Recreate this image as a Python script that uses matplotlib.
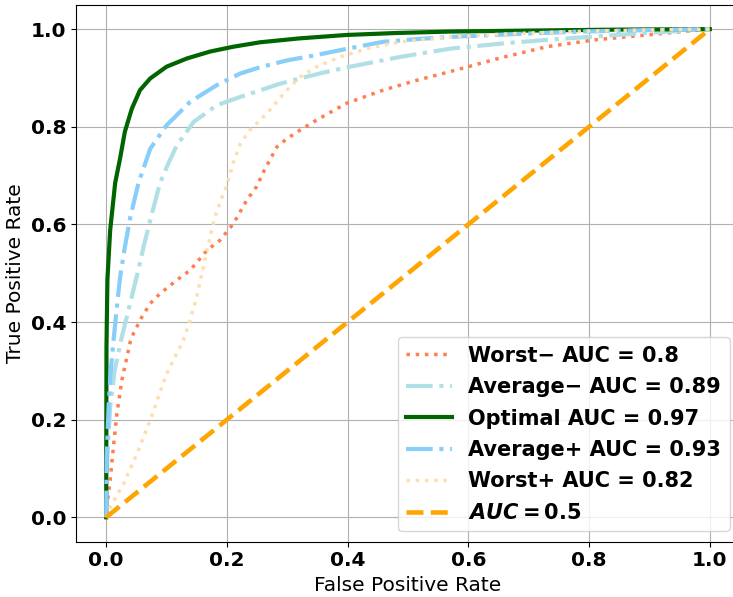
import numpy as np
import matplotlib
matplotlib.use("Agg")
import matplotlib.pyplot as plt

plt.rcParams['mathtext.fontset'] = 'custom'
plt.rcParams['mathtext.it'] = 'DejaVu Sans:italic:bold'
plt.rcParams['mathtext.rm'] = 'DejaVu Sans:bold'

# ROC curves (fpr, tpr)
worst_neg_fpr = [0, 0.001, 0.0066, 0.012, 0.0177, 0.026, 0.04, 0.045, 0.059, 0.073, 0.089, 0.117,
                 0.139, 0.167, 0.189, 0.211, 0.233, 0.249, 0.262, 0.283, 0.3, 0.321, 0.349, 0.398,
                 0.459, 0.514, 0.57, 0.65, 0.73, 0.81, 0.895, 1.0]
worst_neg_tpr = [0, 0.021, 0.076, 0.144, 0.212, 0.281, 0.36, 0.376, 0.41, 0.438, 0.458, 0.486,
                 0.506, 0.547, 0.568, 0.602, 0.65, 0.677, 0.711, 0.759, 0.776, 0.793, 0.814, 0.848,
                 0.875, 0.895, 0.913, 0.94, 0.964, 0.978, 0.988, 1.0]

avg_neg_fpr = [0, 0.002, 0.0066, 0.014, 0.025, 0.04, 0.051, 0.062, 0.073, 0.089, 0.103, 0.117,
               0.145, 0.183, 0.222, 0.249, 0.285, 0.321, 0.36, 0.404, 0.487, 0.57, 0.66, 0.752,
               0.87, 1.0]
avg_neg_tpr = [0, 0.124, 0.226, 0.3, 0.365, 0.44, 0.495, 0.554, 0.609, 0.684, 0.725, 0.762,
               0.81, 0.844, 0.861, 0.872, 0.887, 0.899, 0.911, 0.923, 0.943, 0.96, 0.971, 0.98,
               0.99, 1.0]

optimal_fpr = [0, 0.0005, 0.002, 0.0066, 0.0149, 0.023, 0.031, 0.0425, 0.056, 0.073, 0.1, 0.134,
               0.172, 0.211, 0.255, 0.32, 0.398, 0.48, 0.57, 0.7, 0.85, 1.0]
optimal_tpr = [0, 0.35, 0.486, 0.588, 0.685, 0.735, 0.79, 0.837, 0.875, 0.899, 0.923, 0.94,
               0.954, 0.964, 0.973, 0.981, 0.988, 0.992, 0.995, 0.997, 0.999, 1.0]

avg_pos_fpr = [0, 0.001, 0.004, 0.0075, 0.012, 0.0177, 0.023, 0.031, 0.04, 0.0535, 0.073, 0.1,
               0.139, 0.183, 0.222, 0.255, 0.3, 0.349, 0.4, 0.459, 0.52, 0.57, 0.68, 0.785, 0.9, 1.0]
avg_pos_tpr = [0, 0.124, 0.226, 0.3, 0.36, 0.431, 0.492, 0.554, 0.615, 0.685, 0.755, 0.803,
               0.851, 0.885, 0.909, 0.922, 0.936, 0.947, 0.96, 0.974, 0.98, 0.984, 0.99, 0.995, 0.998, 1.0]

worst_pos_fpr = [0, 0.0066, 0.029, 0.051, 0.073, 0.1, 0.128, 0.139, 0.15, 0.161, 0.172, 0.18,
                 0.192, 0.2, 0.21, 0.222, 0.238, 0.266, 0.294, 0.321, 0.349, 0.387, 0.432, 0.487,
                 0.57, 0.68, 0.8, 1.0]
worst_pos_tpr = [0, 0.021, 0.069, 0.13, 0.199, 0.294, 0.363, 0.404, 0.451, 0.513, 0.574, 0.615,
                 0.656, 0.68, 0.725, 0.765, 0.793, 0.827, 0.868, 0.902, 0.923, 0.943, 0.96, 0.974,
                 0.984, 0.991, 0.996, 1.0]

chance = [0, 1]

fig = plt.figure(figsize=(7.33, 5.97), dpi=100)
ax = fig.add_axes([76/733, 1-541.7/597, 664/733, 537/597])

ax.plot(worst_neg_fpr, worst_neg_tpr, ':', color='coral', lw=2.5, label='Worst\u2212 AUC = 0.8')
ax.plot(avg_neg_fpr, avg_neg_tpr, '-.', color='powderblue', lw=3, label='Average\u2212 AUC = 0.89')
ax.plot(optimal_fpr, optimal_tpr, '-', color='darkgreen', lw=3, label='Optimal AUC = 0.97')
ax.plot(avg_pos_fpr, avg_pos_tpr, '-.', color='lightskyblue', lw=3, label='Average+ AUC = 0.93')
ax.plot(worst_pos_fpr, worst_pos_tpr, ':', color='navajowhite', lw=2.5, label='Worst+ AUC = 0.82')
ax.plot(chance, chance, '--', color='orange', lw=3.3, label='$AUC = 0.5$')

ax.set_xlim(-0.05, 1.05)
ax.set_ylim(-0.05, 1.05)
ax.set_xticks(np.arange(0, 1.01, 0.2))
ax.set_yticks(np.arange(0, 1.01, 0.2))
for lab in ax.get_xticklabels() + ax.get_yticklabels():
    lab.set_fontweight('bold')
    lab.set_fontsize(14.5)
ax.grid(True)
ax.spines['right'].set_visible(False)  # falls outside the cropped figure anyway
ax.set_xlabel('False Positive Rate', fontsize=14.5)
ax.set_ylabel('True Positive Rate', fontsize=14.5)
ax.legend(loc='lower right', prop={'weight': 'bold', 'size': 15}, handlelength=2.2,
          labelspacing=0.55)

fig.savefig('out.png', dpi=100)
